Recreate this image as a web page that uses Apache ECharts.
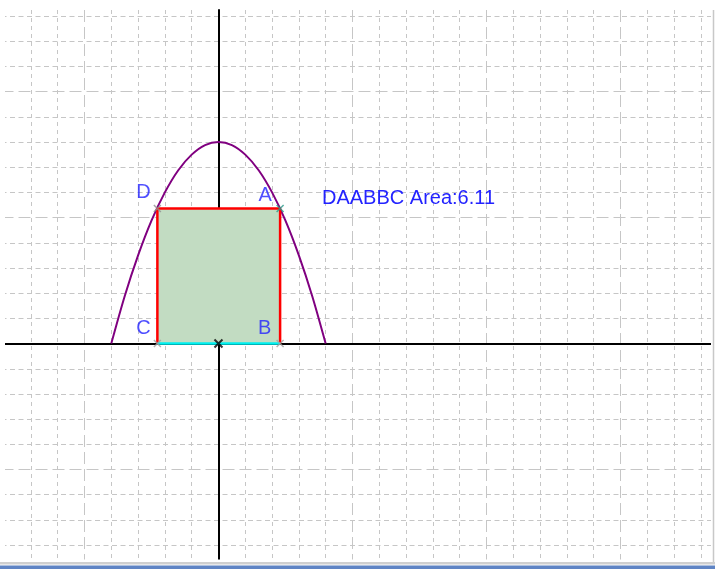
<!DOCTYPE html>
<html><head><meta charset="utf-8">
<script src="https://cdn.jsdelivr.net/npm/echarts@6/dist/echarts.min.js"></script>
<style>
html,body{margin:0;padding:0;background:#fff;width:715px;height:569px;overflow:hidden;position:relative}
#c{position:absolute;left:-50px;top:0;width:765px;height:600px}
</style>
</head><body><div id="c"></div>
<script>
// parabola points
const curveX = [-2,-1.75,-1.5,-1.25,-1,-0.75,-0.5,-0.25,0,0.25,0.5,0.75,1,1.25,1.5,1.75,2];
const curveY = [0,0.94,1.75,2.44,3,3.44,3.75,3.94,4,3.94,3.75,3.44,3,2.44,1.75,0.94,0];
// rectangle corners
const pointNames = ['A','B','C','D'];
const pointX = [1.15, 1.15, -1.14, -1.14];
const pointY = [2.68, 0, 0, 2.68];
const areaText = 'DAABBC Area:6.11';

// styles (kept apart from data)
const SHIFT = 50; // container is shifted 50px left of the viewport
const labelOffsets = {A:[-15,-13], B:[-15.5,-15], C:[-14,-15], D:[-14,-16]};
const markColors = {A:'#2a9a8a', B:'#a0a0a0', C:'#a0a0a0', D:'#909090'};
const FONT = '"Liberation Sans", Arial, sans-serif';
const BLUE = '#2323ff';
const GRIDC = '#c6c6c6';

const P = i => [pointX[i], pointY[i]];
const idx = n => pointNames.indexOf(n);

const chart = echarts.init(document.getElementById('c'), null, {renderer:'canvas'});
chart.setOption({
  animation: false,
  backgroundColor: '#fff',
  grid: {left: 0.5, right: 4, top: 10, bottom: 4.5, containLabel: false},
  xAxis: {
    type: 'value', min: -5, max: 9.19, interval: 2.5,
    axisLine: {show: true, onZero: true, lineStyle: {color: '#000', width: 2}},
    axisTick: {show: false}, axisLabel: {show: false},
    splitLine: {show: true, showMinLine: false, showMaxLine: false,
      lineStyle: {color: GRIDC, width: 1, type: [12, 5]}},
    minorTick: {show: false, splitNumber: 5},
    minorSplitLine: {show: true, lineStyle: {color: GRIDC, width: 1, type: [4, 4]}}
  },
  yAxis: {
    type: 'value', min: -5, max: 6.62, interval: 2.5,
    axisLine: {show: true, onZero: true, lineStyle: {color: '#000', width: 2}},
    axisTick: {show: false}, axisLabel: {show: false},
    splitLine: {show: true, showMinLine: false, showMaxLine: false,
      lineStyle: {color: GRIDC, width: 1, type: [12, 5]}},
    minorTick: {show: false, splitNumber: 5},
    minorSplitLine: {show: true, lineStyle: {color: GRIDC, width: 1, type: [5, 3.5]}}
  },
  series: [
    { // shaded rectangle (fills down to y=0)
      type: 'line', z: 1, silent: true, showSymbol: false,
      data: [P(idx('D')), P(idx('A'))],
      lineStyle: {width: 0},
      areaStyle: {color: '#c2dcc2', opacity: 1}
    },
    { // parabola
      type: 'line', z: 3, silent: true, showSymbol: false, smooth: 0.3,
      data: curveX.map((x, i) => [x, curveY[i]]),
      lineStyle: {color: '#800080', width: 2}
    },
    { // red sides C-D-A-B
      type: 'line', z: 4, silent: true, showSymbol: false,
      data: ['C','D','A','B'].map(n => P(idx(n))),
      lineStyle: {color: '#ff0000', width: 2.5}
    },
    { // cyan base C-B
      type: 'line', z: 5, silent: true, showSymbol: false,
      data: ['C','B'].map(n => P(idx(n))),
      lineStyle: {color: '#00f0f0', width: 2.5}
    },
    { // point markers with labels
      type: 'scatter', z: 6, silent: true,
      symbol: 'path://M0,0L10,10M10,0L0,10', symbolSize: 7,
      data: pointNames.map((n, i) => ({
        name: n, value: P(i),
        itemStyle: {color: 'transparent', borderColor: markColors[n], borderWidth: 1.5},
        label: {offset: labelOffsets[n]}
      })),
      label: {show: true, position: 'inside', formatter: '{b}', color: BLUE,
        fontFamily: FONT, fontSize: 20, align: 'center', verticalAlign: 'middle'}
    },
    { // origin marker
      type: 'scatter', z: 7, silent: true,
      symbol: 'path://M0,0L10,10M10,0L0,10', symbolSize: 8,
      data: [[0, 0]],
      itemStyle: {color: 'transparent', borderColor: '#000', borderWidth: 2}
    }
  ],
  graphic: [
    {type: 'rect', z: 100, shape: {x: 0, y: 0, width: SHIFT + 5, height: 600}, style: {fill: '#fff'}},
    {type: 'rect', z: 100, shape: {x: SHIFT + 711, y: 0, width: 10, height: 600}, style: {fill: '#fff'}},
    {type: 'rect', z: 100, shape: {x: 0, y: 559.5, width: 800, height: 50}, style: {fill: '#fff'}},
    {type: 'line', z: 101, shape: {x1: SHIFT + 713.5, y1: 10, x2: SHIFT + 713.5, y2: 563}, style: {stroke: '#c8c8c8', lineWidth: 1.5}},
    {type: 'rect', z: 101, shape: {x: 0, y: 562, width: 800, height: 2.5}, style: {fill: '#cfcfcf'}},
    {type: 'rect', z: 101, shape: {x: 0, y: 565.5, width: 800, height: 4}, style: {fill: '#5f84c4'}},
    {type: 'text', z: 102, x: SHIFT + 322, y: 198,
      style: {text: areaText, font: '20px ' + FONT, fill: BLUE, verticalAlign: 'middle'}}
  ]
});
</script></body></html>
